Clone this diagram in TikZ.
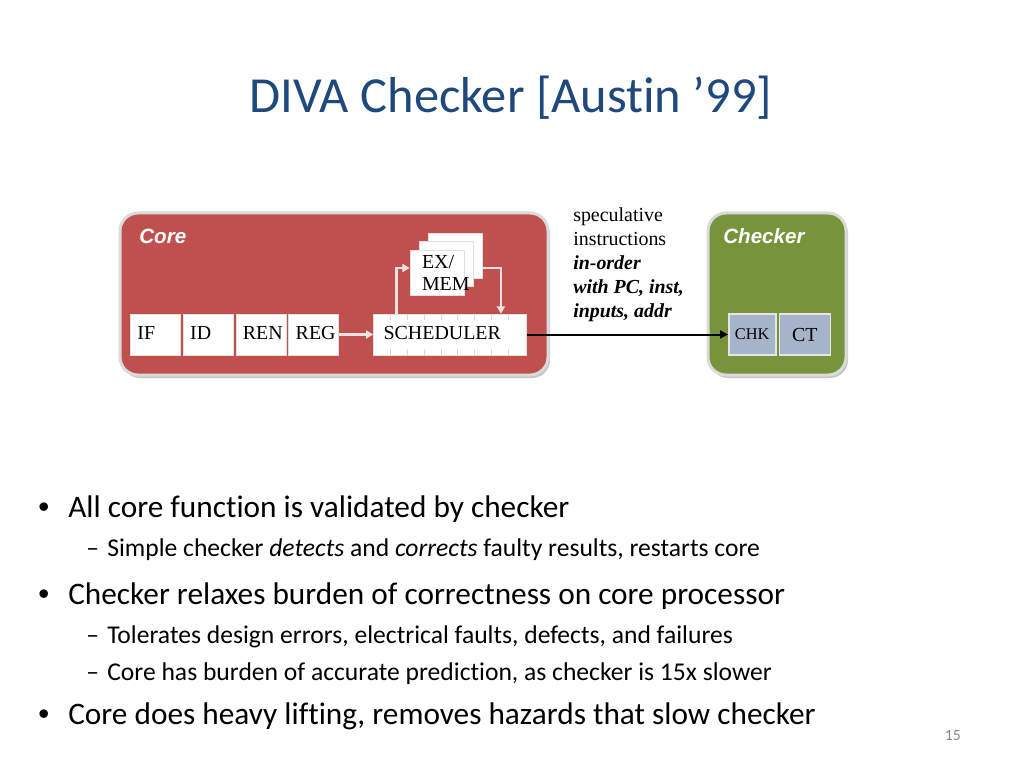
\documentclass[tikz,border=0pt]{standalone}
\usepackage{fontspec}
\setmainfont{Carlito}[Ligatures=NoCommon]
\newfontfamily\serifface{Liberation Serif}
\newfontfamily\labelface{Liberation Sans}
\usepackage{xcolor}
\usetikzlibrary{arrows.meta,positioning,shadows}

\newlength\px
\setlength\px{0.703125pt}

\definecolor{titleblue}{RGB}{31,73,125}
\definecolor{corered}{RGB}{192,80,77}
\definecolor{checkgreen}{RGB}{119,147,60}
\definecolor{chkfill}{RGB}{166,180,202}
\definecolor{rimgray}{RGB}{218,218,218}
\definecolor{wirepale}{RGB}{236,226,226}
\definecolor{pagegray}{RGB}{137,137,137}

\newcommand{\bdot}{\llap{\makebox[30\px][l]{\labelface •}}}
\newcommand{\bdash}{\llap{\makebox[21\px][l]{–}}}

\begin{document}
\begin{tikzpicture}[x=0.703125pt,y=-0.703125pt,
  node distance=1.4pt,
  unitbox/.style={draw=rimgray,line width=3*\px,rounded corners=18*\px,
    drop shadow={shadow xshift=2*\px,shadow yshift=-3*\px,opacity=.45}},
  stagebox/.style={draw=black!12,fill=white,line width=.8*\px,minimum height=41*\px,
    inner xsep=7*\px,inner ysep=0pt,text width=25.3pt,align=left,
    text height=9.5pt,text depth=2.5pt,
    font=\serifface\fontsize{14}{16}\selectfont},
  exbox/.style={draw=black!12,fill=white,line width=.8*\px,minimum width=54*\px,
    minimum height=45*\px},
  chkbox/.style={draw=black!10,fill=chkfill,line width=1.5*\px,minimum height=41*\px,
    inner sep=0pt,text height=9.5pt,text depth=2.5pt,
    font=\serifface\fontsize{14}{16}\selectfont},
  unitname/.style={anchor=west,inner sep=0pt,text=white,
    font=\labelface\bfseries\itshape\fontsize{14.5}{17}\selectfont},
  wire/.style={draw=wirepale,line width=2.5*\px,-{Triangle[length=5pt,width=5.6pt]}},
  bus/.style={draw=black,line width=2*\px,-{Triangle[length=5.6pt,width=5.6pt]}},
  tick/.style={draw=black!15,line width=.8*\px},
  bul/.style={anchor=base west,inner sep=0pt,font=\fontsize{22}{26}\selectfont},
  subbul/.style={anchor=base west,inner sep=0pt,font=\fontsize{18}{22}\selectfont}
]
\fill[white] (0,0) rectangle (1024,768);
\useasboundingbox (0,0) rectangle (1024,768);

% title
\node[anchor=base,inner sep=0pt,text=titleblue,font=\fontsize{35.5}{40}\selectfont]
  (title) at (511,113) {DIVA Checker [Austin ’99]};

% core and checker
\node[unitbox,fill=corered,minimum width=428*\px,minimum height=162*\px] (core) at (334,294) {};
\node[unitbox,fill=checkgreen,minimum width=138*\px,minimum height=162*\px] (checker) at (777,294) {};
\node[unitname] (corename) at (139,236) {Core};
\node[unitname] (checkername) at (723,236) {Checker};

% pipeline stages
\node[stagebox,minimum width=50*\px,anchor=west] (if) at (130,334.5) {IF};
\node[stagebox,right=of if] (id) {ID};
\node[stagebox,right=of id] (ren) {REN};
\node[stagebox,right=of ren] (reg) {REG};
\node[stagebox,right=24pt of reg,text width=93.5pt,inner xsep=7pt] (sched) {SCHEDULER};
\foreach \k in {0,...,7} {
  \draw[tick] ([xshift=(17+16.9*\k)*\px]sched.north west) -- ++(0,6);
  \draw[tick] ([xshift=(17+16.9*\k)*\px]sched.south west) -- ++(0,-6);
}

% execution units
\node[exbox] (ex3) at (455,255.5) {};
\node[exbox] (ex2) at (446,264) {};
\node[exbox,align=left,inner xsep=8.4pt,text width=21.1pt,
  font=\serifface\fontsize{14}{15.5}\selectfont] (ex) at (437,272.5) {EX/\\MEM};

\draw[wire] (reg) -- (sched);
\draw[wire] ([xshift=23*\px]sched.north west) |- ([yshift=4.5*\px]ex.west);
\draw[wire] ([yshift=-12.5*\px]ex3.east) -| ([xshift=-26*\px]sched.north east);

% checker stages
\node[chkbox,minimum width=47*\px,anchor=west,font=\serifface\fontsize{11.5}{13}\selectfont]
  (chk) at (728,334.5) {CHK};
\node[chkbox,minimum width=51*\px,text height=13pt,right=of chk] (ct) {CT};

\draw[bus] (sched) -- (chk);
\node[anchor=west,inner sep=0pt,align=left,font=\serifface\fontsize{14}{16.9}\selectfont]
  (spec) at (573,265) {speculative\\instructions\\\textbf{\textit{in-order}}\\
  \textbf{\textit{with PC, inst,}}\\\textbf{\textit{inputs, addr}}};

% bullets
\node[bul] (b1) at (68,517) {\bdot All core function is validated by checker};
\node[subbul] (s1) at (107,556) {\bdash Simple checker \textit{detects} and \textit{corrects} faulty results, restarts core};
\node[bul] (b2) at (68,604) {\bdot Checker relaxes burden of correctness on core processor};
\node[subbul] (s2) at (107,643) {\bdash Tolerates design errors, electrical faults, defects, and failures};
\node[subbul] (s3) at (107,680) {\bdash Core has burden of accurate prediction, as checker is 15x slower};
\node[bul] (b3) at (68,724) {\bdot Core does heavy lifting, removes hazards that slow checker};
\node[anchor=base east,inner sep=0pt,text=pagegray,font=\fontsize{11}{13}\selectfont]
  (pagenum) at (961,740) {15};
\end{tikzpicture}
\end{document}
